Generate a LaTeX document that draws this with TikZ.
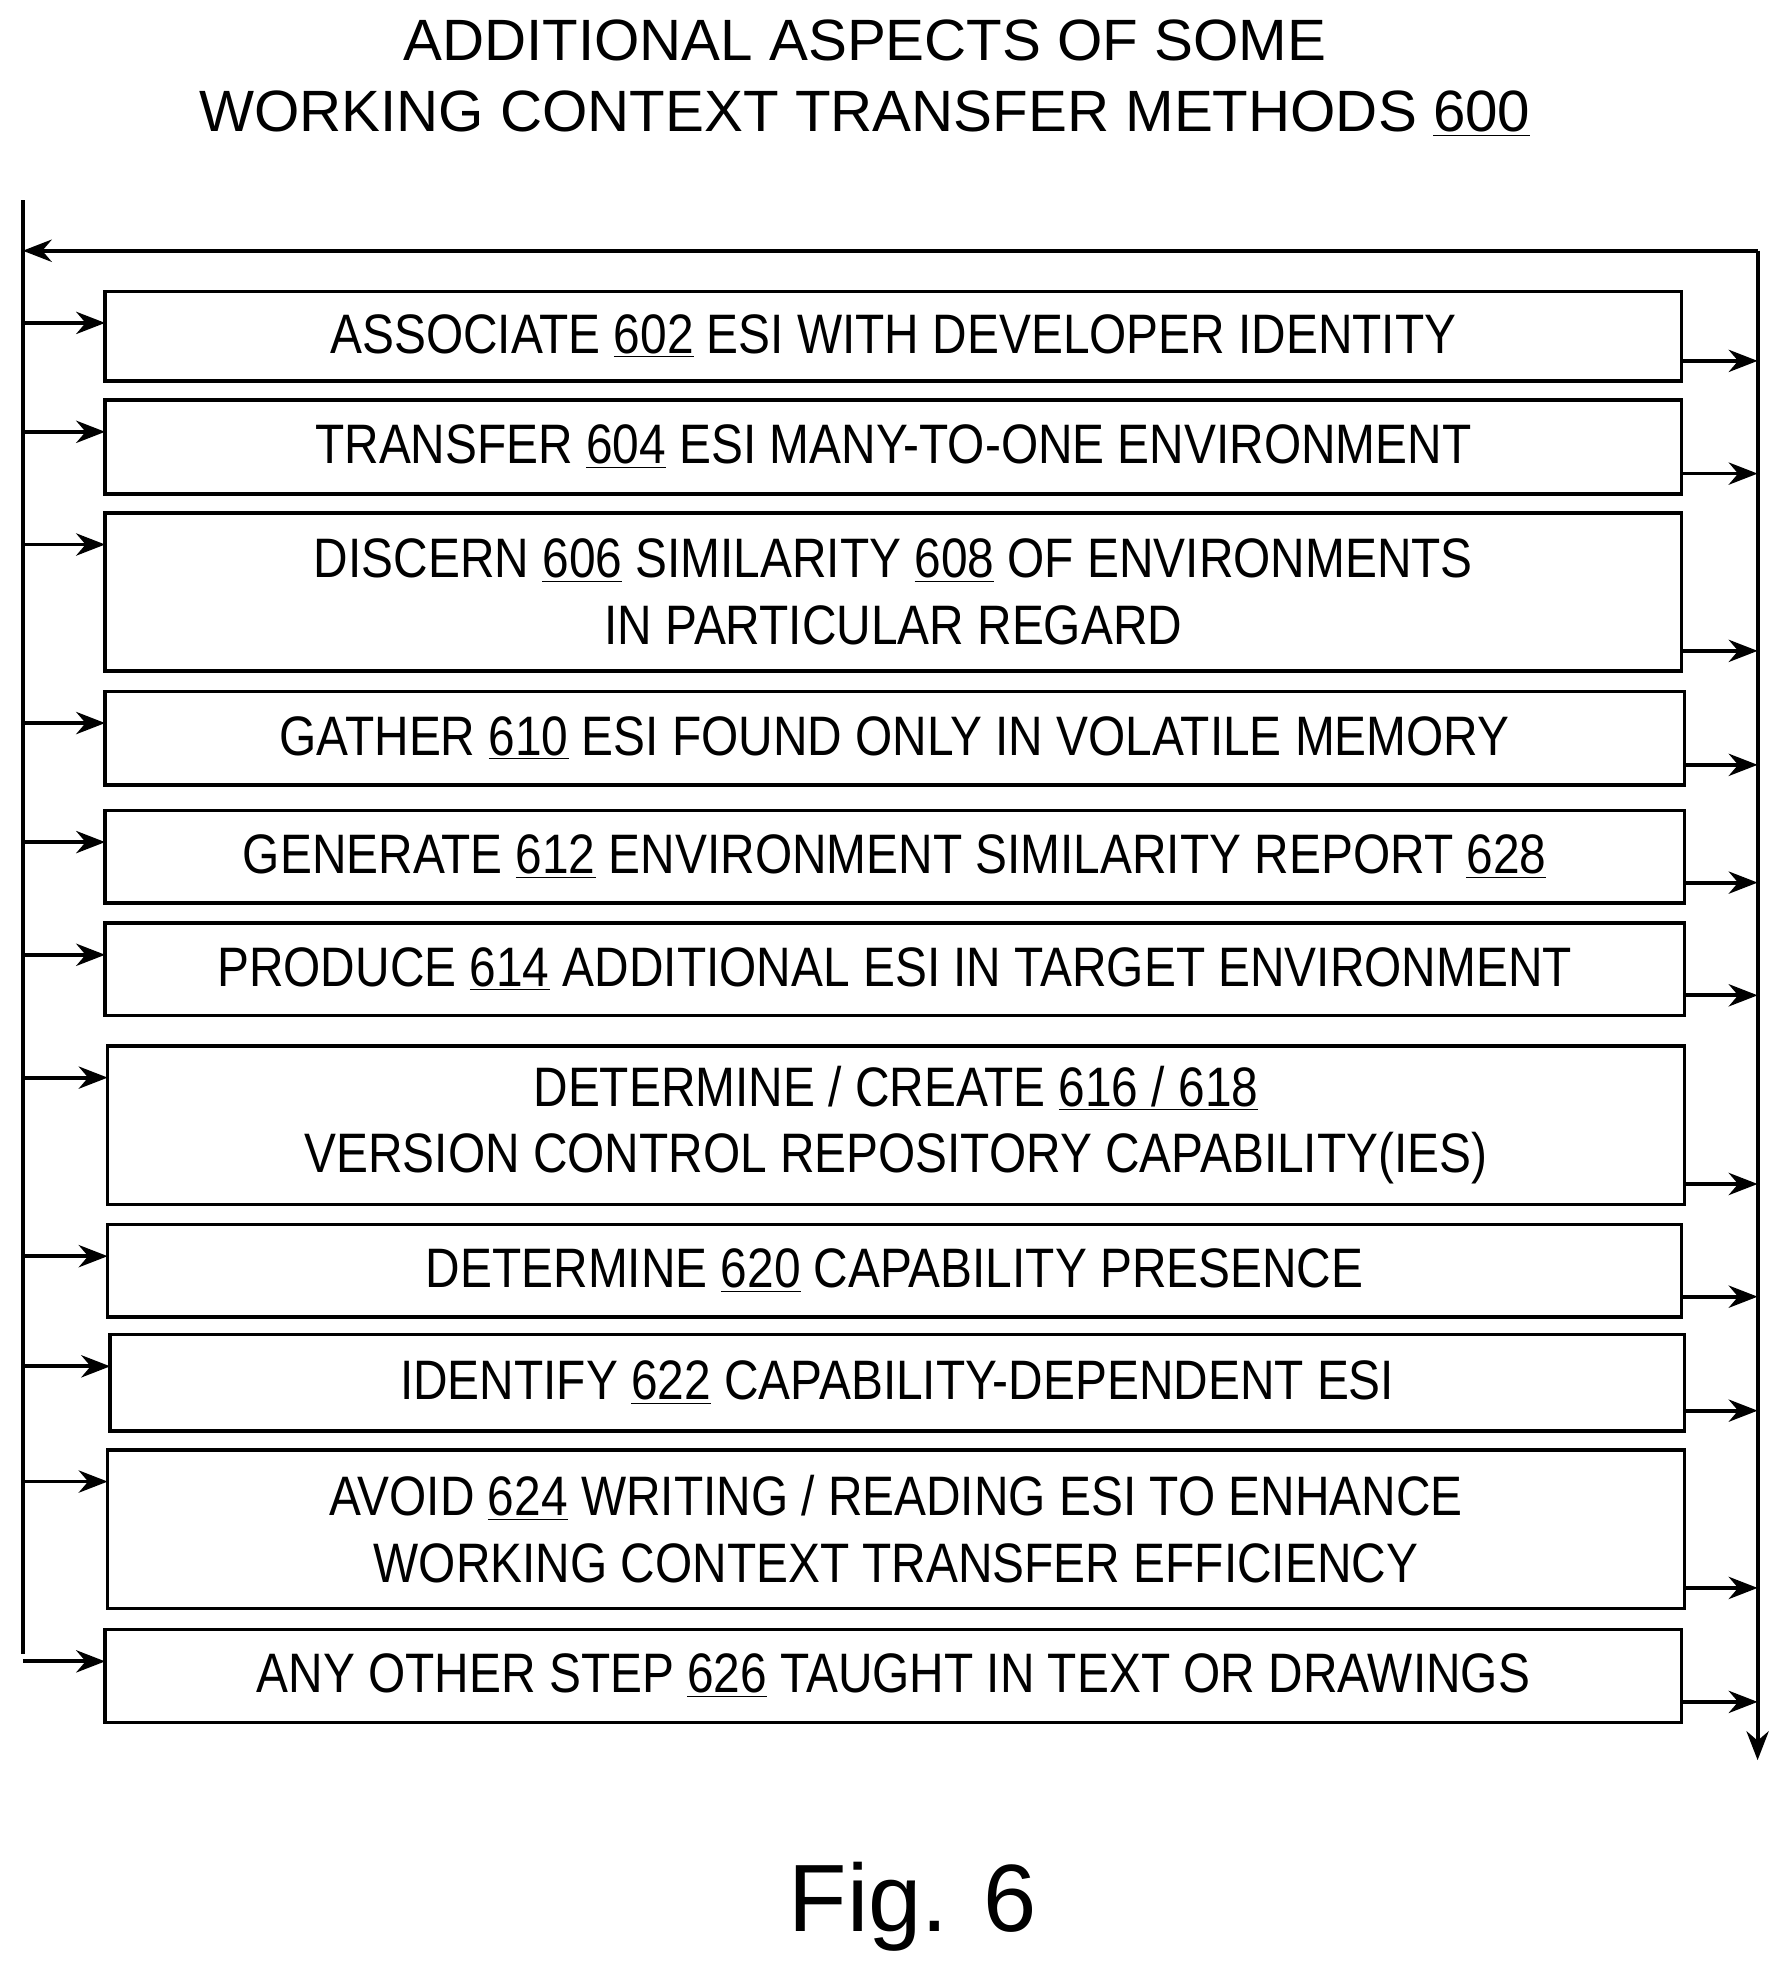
\documentclass[tikz,border=0pt]{standalone}
\usepackage{fontspec}
\setmainfont{Liberation Sans}
\newfontfamily\narrowf{Liberation Sans}[FakeStretch=0.86]
\usetikzlibrary{arrows.meta}
\begin{document}
\begin{tikzpicture}[x=0.02cm,y=-0.02cm,
  box/.style={draw,line width=1.5pt,inner sep=0},
  txt/.style={font=\narrowf\fontsize{25}{30}\selectfont,align=center},
  ln/.style={line width=1.7pt},
  arr/.style={ln,-{Stealth[length=13pt,width=10pt]}}]
\useasboundingbox (0,0) rectangle (1413,1566);
\node[font=\fontsize{26.2}{32}\selectfont,align=center] (title) at (683,62) {ADDITIONAL ASPECTS OF SOME\\WORKING CONTEXT TRANSFER METHODS \underline{600}};
\node[font=\fontsize{43}{46}\selectfont] (fig) at (721,1506) {Fig. 6};
\def\bx#1#2#3#4#5#6#7{%
  \draw[box] (#2,#3) rectangle (#4,#5);
  \coordinate (L#1) at (#2,#3+25);
  \coordinate (R#1) at (#4,#5-16);
  \node[txt] (t#1) at ({(#2+#4)/2},{(#3+#5)/2}) {#6};
  \coordinate (a#1) at (18,#3+25);
  \coordinate (b#1) at (1388,#5-16);
  \draw[arr] (a#1) -- (L#1);
  \draw[arr] (R#1) -- (b#1);}
\bx{1}{83}{230}{1328}{301}{ASSOCIATE \underline{602} ESI WITH DEVELOPER IDENTITY}{}
\bx{2}{83}{316}{1328}{390}{TRANSFER \underline{604} ESI MANY-TO-ONE ENVIRONMENT}{}
\bx{3}{83}{405}{1328}{530}{DISCERN \underline{606} SIMILARITY \underline{608} OF ENVIRONMENTS\\IN PARTICULAR REGARD}{}
\bx{4}{83}{546}{1330}{620}{GATHER \underline{610} ESI FOUND ONLY IN VOLATILE MEMORY}{}
\bx{5}{83}{640}{1330}{713}{GENERATE \underline{612} ENVIRONMENT SIMILARITY REPORT \underline{628}}{}
\bx{6}{83}{729}{1330}{802}{PRODUCE \underline{614} ADDITIONAL ESI IN TARGET ENVIRONMENT}{}
\bx{7}{85}{826}{1330}{951}{DETERMINE / CREATE \underline{616 / 618}\\VERSION CONTROL REPOSITORY CAPABILITY(IES)}{}
\bx{8}{85}{967}{1328}{1040}{DETERMINE \underline{620} CAPABILITY PRESENCE}{}
\bx{9}{87}{1054}{1330}{1130}{IDENTIFY \underline{622} CAPABILITY-DEPENDENT ESI}{}
\bx{10}{85}{1145}{1330}{1270}{AVOID \underline{624} WRITING / READING ESI TO ENHANCE\\WORKING CONTEXT TRANSFER EFFICIENCY}{}
\bx{11}{83}{1287}{1328}{1360}{ANY OTHER STEP \underline{626} TAUGHT IN TEXT OR DRAWINGS}{}
\coordinate (ltop) at (18,158);
\coordinate (lbot) at (18,1306);
\coordinate (rtop) at (1388,198);
\coordinate (ltopa) at (18,198);
\coordinate (rbot) at (1388,1390);
\draw[ln] (ltop) -- (lbot);
\draw[arr] (rtop) -- (ltopa);
\draw[arr] (rtop) -- (rbot);
\end{tikzpicture}
\end{document}
